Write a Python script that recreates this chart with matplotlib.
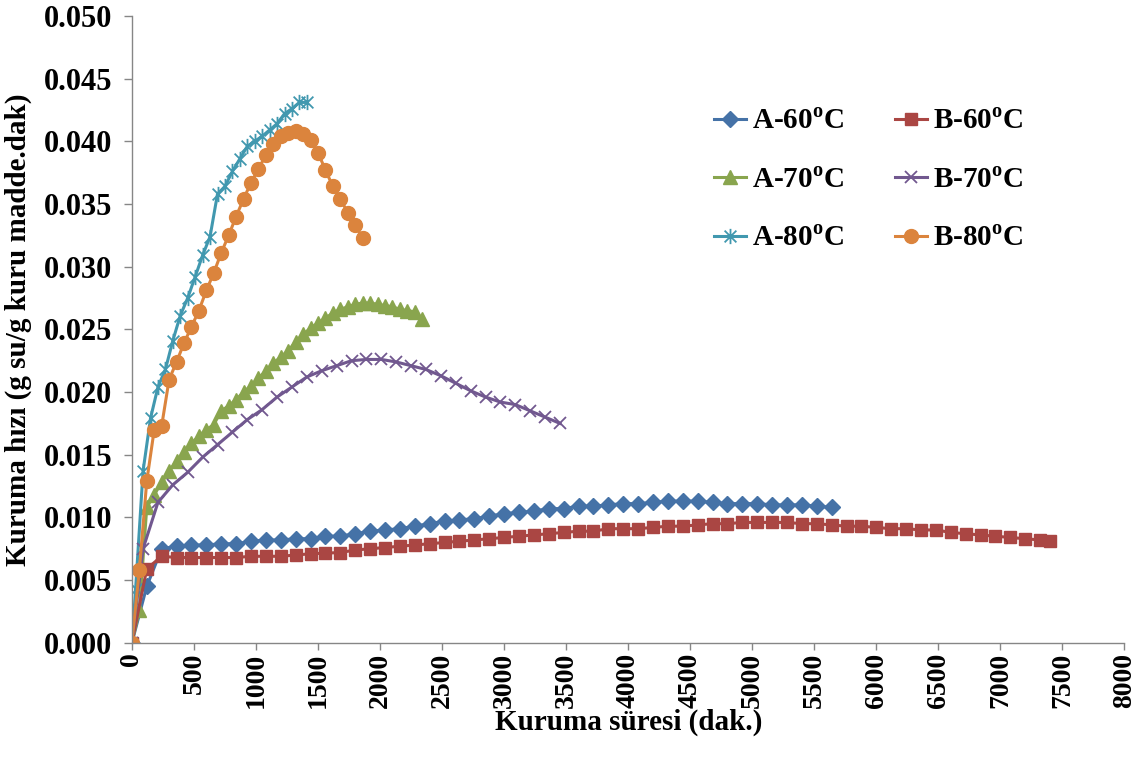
import numpy as np
import matplotlib.pyplot as plt
from matplotlib.path import Path

# drying rate vs drying time
t_a60 = [0, 120, 240, 360, 480, 600, 720, 840, 960, 1080, 1200, 1320, 1440, 1560, 1680, 1800,
         1920, 2040, 2160, 2280, 2400, 2520, 2640, 2760, 2880, 3000, 3120, 3240, 3360, 3480,
         3600, 3720, 3840, 3960, 4080, 4200, 4320, 4440, 4560, 4680, 4800, 4920, 5040, 5160,
         5280, 5400, 5520, 5640]
r_a60 = [0.0, 0.0045, 0.0075, 0.0077, 0.0078, 0.0078, 0.0079, 0.0079, 0.0081, 0.0082, 0.0082,
         0.0083, 0.0083, 0.0085, 0.0085, 0.0087, 0.0089, 0.0090, 0.0091, 0.0093, 0.0095, 0.0097,
         0.0098, 0.0099, 0.0101, 0.0103, 0.0104, 0.0105, 0.0107, 0.0107, 0.0109, 0.0109, 0.0110,
         0.0111, 0.0111, 0.0112, 0.0113, 0.0113, 0.0113, 0.0112, 0.0111, 0.0111, 0.0111, 0.0110,
         0.0110, 0.0110, 0.0109, 0.0108]

t_b60 = [0, 120, 240, 360, 480, 600, 720, 840, 960, 1080, 1200, 1320, 1440, 1560, 1680, 1800,
         1920, 2040, 2160, 2280, 2400, 2520, 2640, 2760, 2880, 3000, 3120, 3240, 3360, 3480,
         3600, 3720, 3840, 3960, 4080, 4200, 4320, 4440, 4560, 4680, 4800, 4920, 5040, 5160,
         5280, 5400, 5520, 5640, 5760, 5880, 6000, 6120, 6240, 6360, 6480, 6600, 6720, 6840,
         6960, 7080, 7200, 7320, 7400]
r_b60 = [0.0, 0.0059, 0.0069, 0.0068, 0.0068, 0.0068, 0.0068, 0.0068, 0.0069, 0.0069, 0.0069,
         0.0070, 0.0071, 0.00715, 0.0072, 0.0074, 0.0075, 0.0076, 0.0077, 0.0078, 0.0079, 0.0080,
         0.0081, 0.0082, 0.0083, 0.0084, 0.0085, 0.0086, 0.0087, 0.0088, 0.0089, 0.0089, 0.0091,
         0.0091, 0.0091, 0.0092, 0.0093, 0.0093, 0.0094, 0.0095, 0.0095, 0.0096, 0.0096, 0.0096,
         0.0096, 0.0095, 0.0095, 0.0094, 0.0093, 0.0093, 0.0092, 0.0091, 0.0091, 0.0090, 0.0090,
         0.0088, 0.0087, 0.0086, 0.0085, 0.0084, 0.0083, 0.0082, 0.0081]

t_a70 = [0, 60, 120, 180, 240, 300, 360, 420, 480, 540, 600, 660, 720, 780, 840, 900, 960, 1020,
         1080, 1140, 1200, 1260, 1320, 1380, 1440, 1500, 1560, 1620, 1680, 1740, 1800, 1860,
         1920, 1980, 2040, 2100, 2160, 2220, 2280, 2340]
r_a70 = [0.0, 0.0026, 0.0108, 0.0118, 0.0128, 0.0137, 0.0145, 0.0152, 0.0159, 0.0165, 0.0170,
         0.0174, 0.0185, 0.0189, 0.0194, 0.0200, 0.0205, 0.0211, 0.0217, 0.0223, 0.0228, 0.0233,
         0.0240, 0.0246, 0.0251, 0.0255, 0.0259, 0.0263, 0.0266, 0.0268, 0.0270, 0.0271, 0.0271,
         0.0270, 0.0269, 0.0268, 0.0266, 0.0265, 0.0264, 0.0258]

t_b70 = [0, 90, 210, 330, 450, 570, 690, 810, 930, 1050, 1170, 1290, 1410, 1530, 1650, 1770,
         1890, 2010, 2130, 2250, 2370, 2490, 2610, 2730, 2850, 2970, 3090, 3210, 3330, 3450]
r_b70 = [0.0, 0.0075, 0.0112, 0.0126, 0.0136, 0.0148, 0.0158, 0.0168, 0.0178, 0.0186, 0.0196,
         0.0204, 0.0212, 0.0217, 0.0221, 0.0225, 0.0226, 0.0226, 0.0224, 0.0221, 0.0218, 0.0213,
         0.0207, 0.0201, 0.0196, 0.0192, 0.0190, 0.0185, 0.0180, 0.0175]

t_a80 = [0, 30, 90, 150, 210, 270, 330, 390, 450, 510, 570, 630, 690, 750, 810, 870, 930, 990,
         1050, 1110, 1170, 1230, 1290, 1350, 1410]
r_a80 = [0.0, 0.0043, 0.0137, 0.0179, 0.0204, 0.0218, 0.0241, 0.0261, 0.0275, 0.0292, 0.0309,
         0.0324, 0.0358, 0.0364, 0.0376, 0.0386, 0.0396, 0.0400, 0.0404, 0.0409, 0.0414, 0.0422,
         0.0426, 0.0431, 0.0431]

t_b80 = [0, 60, 120, 180, 240, 300, 360, 420, 480, 540, 600, 660, 720, 780, 840, 900, 960, 1020,
         1080, 1140, 1200, 1260, 1320, 1380, 1440, 1500, 1560, 1620, 1680, 1740, 1800, 1860]
r_b80 = [0.0, 0.0058, 0.0129, 0.0170, 0.0173, 0.0210, 0.0224, 0.0239, 0.0252, 0.0265, 0.0281,
         0.0295, 0.0311, 0.0325, 0.0340, 0.0354, 0.0367, 0.0378, 0.0389, 0.0398, 0.0404, 0.0407,
         0.0408, 0.0406, 0.0401, 0.0391, 0.0377, 0.0364, 0.0354, 0.0343, 0.0333, 0.0323]

plt.rcParams['font.family'] = 'Liberation Serif'
plt.rcParams['font.weight'] = 'bold'
plt.rcParams['mathtext.fontset'] = 'custom'
plt.rcParams['mathtext.rm'] = 'Liberation Serif:bold'
plt.rcParams['mathtext.bf'] = 'Liberation Serif:bold'

# asterisk marker (x plus vertical bar)
star = Path([(-1, -1), (1, 1), (-1, 1), (1, -1), (0, -1.3), (0, 1.3)],
            [Path.MOVETO, Path.LINETO, Path.MOVETO, Path.LINETO, Path.MOVETO, Path.LINETO])

deg = r'$^{\mathbf{o}}$C'
fig = plt.figure(figsize=(11.37, 7.58), dpi=100)
ax = fig.add_axes([0.116, 0.152, 0.873, 0.827])

lw = 2.2
ax.plot(t_a60, r_a60, color='#4572A7', lw=lw, marker='D', ms=8.5, label='A-60' + deg)
ax.plot(t_a70, r_a70, color='#89A54E', lw=lw, marker='^', ms=10, label='A-70' + deg)
ax.plot(t_a80, r_a80, color='#4198AF', lw=lw, marker=star, ms=11, mew=1.3, mfc='none',
        label='A-80' + deg)
ax.plot(t_b60, r_b60, color='#AA4643', lw=lw, marker='s', ms=9, label='B-60' + deg)
ax.plot(t_b70, r_b70, color='#71588F', lw=lw, marker='x', ms=9, mew=1.3, label='B-70' + deg)
ax.plot(t_b80, r_b80, color='#DB843D', lw=lw, marker='o', ms=10, label='B-80' + deg)

ax.set_xlim(0, 8000)
ax.set_ylim(0, 0.05)
ax.set_xticks(np.arange(0, 8001, 500))
ax.set_yticks(np.arange(0, 0.0501, 0.005))
ax.yaxis.set_major_formatter(plt.FormatStrFormatter('%.3f'))
for s in ['top', 'right']:
    ax.spines[s].set_visible(False)
for s in ['left', 'bottom']:
    ax.spines[s].set_color('#868686')
    ax.spines[s].set_linewidth(1.0)
ax.tick_params(axis='both', colors='#868686', width=1.0, labelcolor='black')
ax.tick_params(axis='y', length=6, pad=8, labelsize=22)
ax.tick_params(axis='x', length=5, pad=2, labelsize=20)
plt.setp(ax.get_xticklabels(), rotation=90, fontweight='bold')
plt.setp(ax.get_yticklabels(), fontweight='bold')

ax.set_xlabel('Kuruma süresi (dak.)', fontsize=21, fontweight='bold')
ax.set_ylabel('Kuruma hızı (g su/g kuru madde.dak)', fontsize=21, fontweight='bold')
ax.xaxis.set_label_coords(0.5, -0.105)
ax.yaxis.set_label_coords(-0.101, 0.5)

ax.legend(ncol=2, loc='upper left', bbox_to_anchor=(0.56, 0.895), frameon=False, fontsize=21,
          handlelength=1.1, columnspacing=1.75, labelspacing=1.08, handletextpad=0.2)

fig.savefig('out.png', dpi=100)
